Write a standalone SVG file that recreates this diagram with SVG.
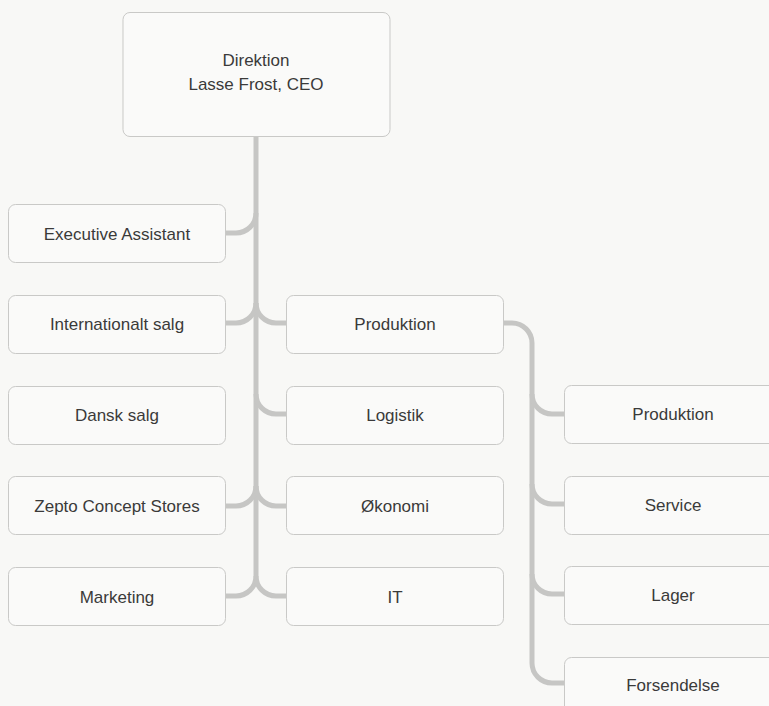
<svg xmlns="http://www.w3.org/2000/svg" width="769" height="706" viewBox="0 0 769 706">
<style>
.bg{fill:#f8f8f6}
.box{fill:#fafaf9;stroke:#c9c9c7;stroke-width:1}
.t{font-family:"Liberation Sans",Arial,sans-serif;font-size:17px;fill:#3a3a3a;text-anchor:middle}
.c{fill:none;stroke:#c6c6c4;stroke-width:5;stroke-linecap:butt}
</style>
<rect class="bg" x="0" y="0" width="769" height="706"/>
<g id="connectors">
<path class="c" d="M256,136 V576"/>
<path class="c" d="M256,213 A20,20 0 0 1 236,233 H226"/>
<path class="c" d="M256,303 A20,20 0 0 1 236,323 H226"/>
<path class="c" d="M256,486 A20,20 0 0 1 236,506 H226"/>
<path class="c" d="M256,576 A20,20 0 0 1 236,596 H226"/>
<path class="c" d="M256,303 A20,20 0 0 0 276,323 H286"/>
<path class="c" d="M256,394 A20,20 0 0 0 276,414 H286"/>
<path class="c" d="M256,486 A20,20 0 0 0 276,506 H286"/>
<path class="c" d="M256,576 A20,20 0 0 0 276,596 H286"/>
<path class="c" d="M503,323 H512 A20,20 0 0 1 532,343 V663 A20,20 0 0 0 552,683 H564"/>
<path class="c" d="M532,394 A20,20 0 0 0 552,414 H564"/>
<path class="c" d="M532,484 A20,20 0 0 0 552,504 H564"/>
<path class="c" d="M532,574 A20,20 0 0 0 552,594 H564"/>
</g>
<g id="direktion"><rect class="box" x="123" y="12.5" width="267" height="124" rx="7"/><text class="t" x="256" y="66">Direktion</text><text class="t" x="256" y="90">Lasse Frost, CEO</text></g>
<g id="exec"><rect class="box" x="8.5" y="204.5" width="217" height="58" rx="7"/><text class="t" x="117" y="240">Executive Assistant</text></g>
<g id="intsalg"><rect class="box" x="8.5" y="295.5" width="217" height="58" rx="7"/><text class="t" x="117" y="330">Internationalt salg</text></g>
<g id="dansksalg"><rect class="box" x="8.5" y="386.5" width="217" height="58" rx="7"/><text class="t" x="117" y="421">Dansk salg</text></g>
<g id="zepto"><rect class="box" x="8.5" y="476.5" width="217" height="58" rx="7"/><text class="t" x="117" y="512">Zepto Concept Stores</text></g>
<g id="marketing"><rect class="box" x="8.5" y="567.5" width="217" height="58" rx="7"/><text class="t" x="117" y="603">Marketing</text></g>
<g id="produktion"><rect class="box" x="286.5" y="295.5" width="217" height="58" rx="7"/><text class="t" x="395" y="330">Produktion</text></g>
<g id="logistik"><rect class="box" x="286.5" y="386.5" width="217" height="58" rx="7"/><text class="t" x="395" y="421">Logistik</text></g>
<g id="okonomi"><rect class="box" x="286.5" y="476.5" width="217" height="58" rx="7"/><text class="t" x="395" y="512">Økonomi</text></g>
<g id="it"><rect class="box" x="286.5" y="567.5" width="217" height="58" rx="7"/><text class="t" x="395" y="603">IT</text></g>
<g id="produktion2"><rect class="box" x="564.5" y="385.5" width="217" height="58" rx="7"/><text class="t" x="673" y="420">Produktion</text></g>
<g id="service"><rect class="box" x="564.5" y="476.5" width="217" height="58" rx="7"/><text class="t" x="673" y="511">Service</text></g>
<g id="lager"><rect class="box" x="564.5" y="566.5" width="217" height="58" rx="7"/><text class="t" x="673" y="601">Lager</text></g>
<g id="forsendelse"><rect class="box" x="564.5" y="657.5" width="217" height="58" rx="7"/><text class="t" x="673" y="691">Forsendelse</text></g>
</svg>
